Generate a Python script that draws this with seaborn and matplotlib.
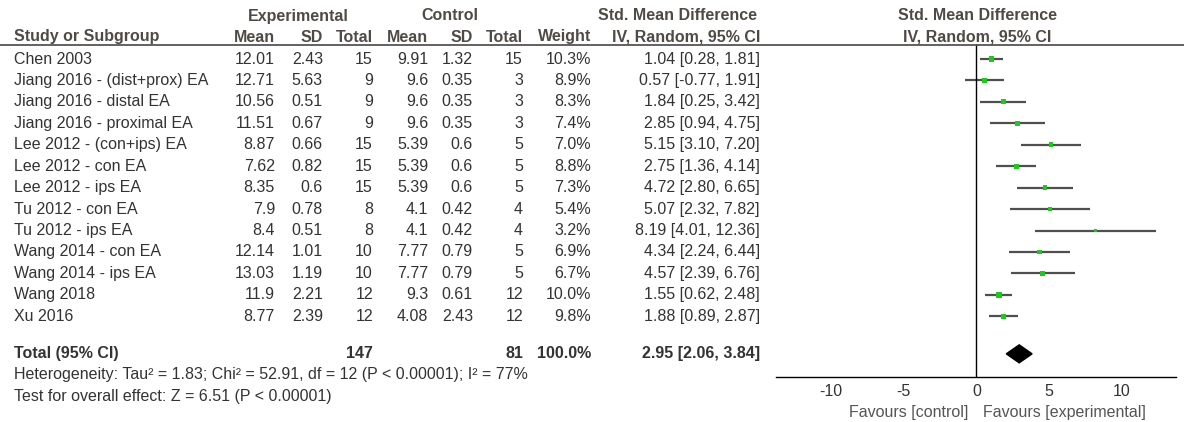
import seaborn as sns
import pandas as pd
import matplotlib.pyplot as plt
from matplotlib.transforms import blended_transform_factory
from matplotlib.lines import Line2D

sns.set_style('white')
plt.rcParams['font.family'] = ['Liberation Sans', 'DejaVu Sans']

# Data
studies = ["Chen 2003", "Jiang 2016 - (dist+prox) EA", "Jiang 2016 - distal EA",
           "Jiang 2016 - proximal EA", "Lee 2012 - (con+ips) EA", "Lee 2012 - con EA",
           "Lee 2012 - ips EA", "Tu 2012 - con EA", "Tu 2012 - ips EA",
           "Wang 2014 - con EA", "Wang 2014 - ips EA", "Wang 2018", "Xu 2016"]
exp_mean = ["12.01", "12.71", "10.56", "11.51", "8.87", "7.62", "8.35", "7.9", "8.4", "12.14", "13.03", "11.9", "8.77"]
exp_sd = ["2.43", "5.63", "0.51", "0.67", "0.66", "0.82", "0.6", "0.78", "0.51", "1.01", "1.19", "2.21", "2.39"]
exp_n = [15, 9, 9, 9, 15, 15, 15, 8, 8, 10, 10, 12, 12]
ctl_mean = ["9.91", "9.6", "9.6", "9.6", "5.39", "5.39", "5.39", "4.1", "4.1", "7.77", "7.77", "9.3", "4.08"]
ctl_sd = ["1.32", "0.35", "0.35", "0.35", "0.6", "0.6", "0.6", "0.42", "0.42", "0.79", "0.79", "0.61", "2.43"]
ctl_n = [15, 3, 3, 3, 5, 5, 5, 4, 4, 5, 5, 12, 12]
weight = [10.3, 8.9, 8.3, 7.4, 7.0, 8.8, 7.3, 5.4, 3.2, 6.9, 6.7, 10.0, 9.8]
smd = [1.04, 0.57, 1.84, 2.85, 5.15, 2.75, 4.72, 5.07, 8.19, 4.34, 4.57, 1.55, 1.88]
ci_low = [0.28, -0.77, 0.25, 0.94, 3.10, 1.36, 2.80, 2.32, 4.01, 2.24, 2.39, 0.62, 0.89]
ci_high = [1.81, 1.91, 3.42, 4.75, 7.20, 4.14, 6.65, 7.82, 12.36, 6.44, 6.76, 2.48, 2.87]

total_smd, total_lo, total_hi = 2.95, 2.06, 3.84
total_exp, total_ctl = 147, 81
heterogeneity = "Heterogeneity: Tau² = 1.83; Chi² = 52.91, df = 12 (P < 0.00001); I² = 77%"
overall = "Test for overall effect: Z = 6.51 (P < 0.00001)"

df = pd.DataFrame({"study": studies, "smd": smd, "lo": ci_low, "hi": ci_high, "weight": weight})
df["row"] = range(len(df))
total_row = 13.75

W, H = 1184, 422
fig = plt.figure(figsize=(W / 100, H / 100), dpi=100)

# forest panel
ax = fig.add_axes([776 / W, 1 - 377 / H, 400 / W, (377 - 44) / H])
ax.set_xlim(-13.8, 13.75)
ax.set_ylim(14.83, -0.70)

ax.hlines(df["row"], df["lo"], df["hi"], color="#4f4f4f", lw=1.6, zorder=2)
sns.scatterplot(data=df, x="smd", y="row", size="weight", sizes=(6, 16), marker="s",
                color="#1ec81e", edgecolor="none", legend=False, ax=ax, zorder=3)
h = 0.42
ax.fill([total_lo, total_smd, total_hi, total_smd],
        [total_row, total_row - h, total_row, total_row + h], color="black", zorder=3)
ax.axvline(0, color="black", lw=1)

for s in ["left", "top", "right"]:
    ax.spines[s].set_visible(False)
ax.spines["bottom"].set_color("black")
ax.spines["bottom"].set_linewidth(1)
ax.set_xticks([-10, -5, 0, 5, 10])
ax.set_xticklabels(["-10", "-5", "0", "5", "10"])
ax.tick_params(axis="x", direction="inout", length=10, width=1, labelsize=11.5,
               labelcolor="#333333", pad=0)
ax.set_yticks([])
ax.set_xlabel("")
ax.set_ylabel("")

# table text
tr = blended_transform_factory(fig.transFigure, ax.transData)
fs = 11.5
txt_col = "#333333"
hdr_col = "#504a44"


def put(x, y, s, ha="right", bold=False, color=txt_col):
    fig.text(x / W, y, s, transform=tr, ha=ha, va="center", fontsize=fs,
             fontweight="bold" if bold else "normal", color=color)


cols = [(275, exp_mean), (323, exp_sd), (373, exp_n), (428, ctl_mean),
        (473, ctl_sd), (523, ctl_n)]
for i, name in enumerate(studies):
    put(14, i, name, ha="left")
    for x, vals in cols:
        put(x, i, str(vals[i]))
    put(591, i, f"{weight[i]:.1f}%")
    put(760, i, f"{smd[i]:.2f} [{ci_low[i]:.2f}, {ci_high[i]:.2f}]")

put(14, total_row, "Total (95% CI)", ha="left", bold=True)
put(373, total_row, str(total_exp), bold=True)
put(523, total_row, str(total_ctl), bold=True)
put(591, total_row, "100.0%", bold=True)
put(760, total_row, f"{total_smd:.2f} [{total_lo:.2f}, {total_hi:.2f}]", bold=True)


# headers (figure pixel coords)
def ftext(x, y, s, ha="center", bold=True, color=hdr_col, size=fs):
    fig.text(x / W, 1 - y / H, s, ha=ha, va="center", fontsize=size,
             fontweight="bold" if bold else "normal", color=color)


ftext(298, 16, "Experimental")
ftext(450, 16, "Control")
ftext(677, 16, "Std. Mean Difference")
ftext(977, 16, "Std. Mean Difference")
ftext(14, 37, "Study or Subgroup", ha="left")
for x, s in [(275, "Mean"), (323, "SD"), (373, "Total"), (428, "Mean"),
             (473, "SD"), (523, "Total"), (591, "Weight"), (760, "IV, Random, 95% CI")]:
    ftext(x, 37, s, ha="right")
ftext(977, 37, "IV, Random, 95% CI")
fig.add_artist(Line2D([0, 1], [1 - 44.5 / H, 1 - 44.5 / H], transform=fig.transFigure,
                      color="#555555", lw=1.3))

ftext(14, 375, heterogeneity, ha="left", bold=False, color=txt_col)
ftext(14, 396, overall, ha="left", bold=False, color=txt_col)
ftext(968, 412, "Favours [control]", ha="right", bold=False, color="#555555")
ftext(983, 412, "Favours [experimental]", ha="left", bold=False, color="#555555")

fig.savefig("out.png", dpi=100)
